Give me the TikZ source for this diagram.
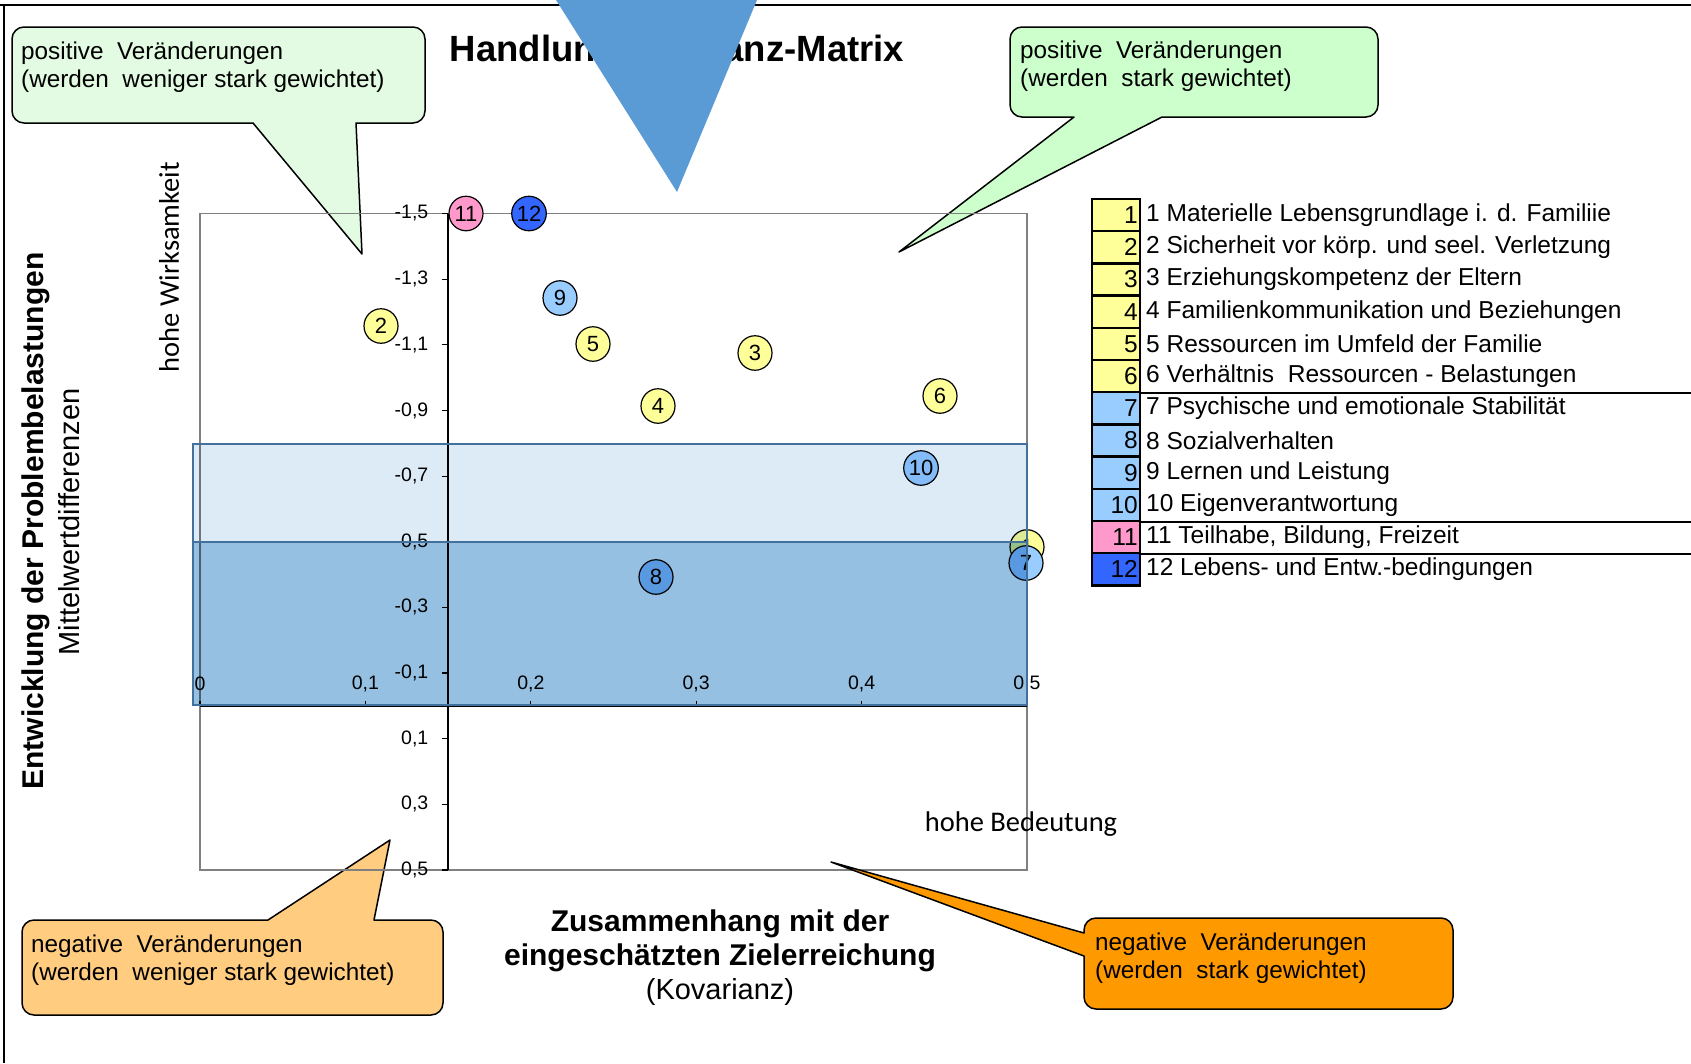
\documentclass[tikz,border=0pt]{standalone}
\usepackage{fontspec}
\setmainfont{Liberation Sans}
\newfontfamily\calib{Carlito}
\usetikzlibrary{shapes.geometric}
\definecolor{yel}{RGB}{255,255,153}
\definecolor{lblue}{RGB}{153,204,255}
\definecolor{pinkc}{RGB}{255,153,204}
\definecolor{dblue}{RGB}{51,102,255}
\definecolor{bandlight}{RGB}{221,235,247}
\definecolor{banddark}{RGB}{149,192,226}
\definecolor{bandline}{RGB}{65,113,156}
\definecolor{greenA}{RGB}{226,251,226}
\definecolor{greenB}{RGB}{204,255,204}
\definecolor{orangeA}{RGB}{255,204,128}
\definecolor{orangeB}{RGB}{255,153,0}
\definecolor{trifill}{RGB}{91,155,213}
\begin{document}
\begin{tikzpicture}[x=1pt,y=-1pt,
  callout/.style={draw=black, line width=1.5, line join=round},
  ctext/.style={anchor=west, align=left, inner sep=0, font=\fontsize{24.3}{28}\selectfont},
  ticklbl/.style={inner sep=0, font=\fontsize{19.5}{19.5}\selectfont},
  pt/.style={ellipse, draw=black, line width=1.2, minimum width=34, minimum height=34.5, inner sep=0, font=\fontsize{22}{22}\selectfont},
  bandedge/.style={draw=bandline, line width=2.5},
  cell/.style={draw=black, line width=2.5, minimum width=48, minimum height=32.25, inner sep=0},
  legtext/.style={anchor=west, inner sep=0, font=\fontsize{24.5}{28}\selectfont},
  axtitle/.style={inner sep=0, font=\fontsize{30}{34}\selectfont\bfseries},
  axsub/.style={inner sep=0, font=\fontsize{29}{34}\selectfont},
  hint/.style={inner sep=0, font=\fontsize{28.5}{32}\selectfont\calib}
]
\useasboundingbox (0,0) rectangle (1691,1063);
\fill[white] (0,0) rectangle (1691,1063);

% outer frame
\draw[line width=2.5] (0,5) -- (1691,5);
\draw[line width=1.5] (4,5) -- (4,1063);

% callout 3 (under plot)
\draw[callout, fill=orangeA] (390,840) -- (374,920) [rounded corners=12] -- (443,920) -- (443,1015) -- (22,1015) -- (22,920) [sharp corners] -- (268,920) -- cycle;
\node[ctext] (c3) at (31,960) {negative~ Veränderungen\\(werden~ weniger stark gewichtet)};

% callout 1
\draw[callout, fill=greenA] (362,254) -- (356,123) [rounded corners=12] -- (425,123) -- (425,27) -- (12,27) -- (12,123) [sharp corners] -- (253,123) -- cycle;
\node[ctext] (c1) at (21,67) {positive~ Veränderungen\\(werden~ weniger stark gewichtet)};

% callout 2
\draw[callout, fill=greenB] (899,252) -- (1162,117) [rounded corners=12] -- (1378,117) -- (1378,27) -- (1010,27) -- (1010,117) [sharp corners] -- (1074,117) -- cycle;
\node[ctext] (c2) at (1020,66) {positive~ Veränderungen\\(werden~ stark gewichtet)};

% plot frame and axes
\draw[gray, line width=1.5] (200,213.5) rectangle (1027,870);
\draw[line width=2] (448,213.5) -- (448,870);
\draw[line width=2] (200,705.5) -- (1027,705.5);

\foreach \v/\t [count=\i] in {-1.5/{-1,5},-1.3/{-1,3},-1.1/{-1,1},-0.9/{-0,9},-0.7/{-0,7},-0.5/{-0,5},-0.3/{-0,3},-0.1/{-0,1},0.1/{0,1},0.3/{0,3},0.5/{0,5}}{
  \pgfmathsetmacro\yy{213.5+(\v+1.5)*328.25}
  \draw[line width=1.2] (442,\yy) -- (448,\yy);
  \node[ticklbl, anchor=east] (yl\i) at (428.5,\yy) {\t};
}
\foreach \v/\t [count=\i] in {0/0,1/{0,1},2/{0,2},3/{0,3},4/{0,4},5/{0,5}}{
  \pgfmathsetmacro\xx{200+\v*165.4}
  \draw[line width=1.2] (\xx,700.5) -- (\xx,705.5);
  \node[ticklbl] (xl\i) at (\xx,683.5) {\t};
}

% data points
\node[pt, fill=yel] (p1) at (1027,547) {1};
\node[pt, fill=yel] (p2) at (381,326) {2};
\node[pt, fill=yel] (p3) at (755,353) {3};
\node[pt, fill=yel] (p4) at (658,406) {4};
\node[pt, fill=yel] (p5) at (593,344) {5};
\node[pt, fill=yel] (p6) at (940,396) {6};
\node[pt, fill=lblue] (p7) at (1026,563) {7};
\node[pt, fill=lblue] (p8) at (656,577) {8};
\node[pt, fill=lblue] (p9) at (560,298) {9};
\node[pt, fill=lblue] (p10) at (921,468) {10};
\node[pt, fill=pinkc] (p11) at (466,213.5) {11};
\node[pt, fill=dblue] (p12) at (529,213.5) {12};

% bands (multiplied over the plot)
\begin{scope}[blend mode=multiply]
\fill[bandlight] (193,444) rectangle (1027,541.8);
\fill[banddark] (193,541.8) rectangle (1027,705);
\end{scope}
\draw[bandedge] (193,444) rectangle (1027,705);
\draw[bandedge] (193,541.8) -- (1027,541.8);

% callout 4
\draw[callout, fill=orangeB] (831,862) -- (1084,956) [rounded corners=12] -- (1084,1009) -- (1453,1009) -- (1453,918) -- (1084,918) [sharp corners] -- (1084,933) -- cycle;
\node[ctext] (c4) at (1095,958) {negative~ Veränderungen\\(werden~ stark gewichtet)};

% axis titles
\node[axtitle] (xt1) at (720,924) {Zusammenhang mit der};
\node[axtitle] (xt2) at (720,958) {eingeschätzten Zielerreichung};
\node[axsub] (xt3) at (720,992) {(Kovarianz)};
\node[axtitle, rotate=90] (yt1) at (36,521) {Entwicklung der Problembelastungen};
\node[axsub, rotate=90] (yt2) at (69,522) {Mittelwertdifferenzen};
\node[hint, rotate=90] (hw) at (169,267) {hohe Wirksamkeit};
\node[hint] (hb) at (1021,824) {hohe Bedeutung};

% title
\node[inner sep=0, font=\fontsize{36.5}{40}\selectfont\bfseries] (title) at (677,52) {Handlungsrelevanz-Matrix};

% legend
\foreach \c/\t [count=\i] in {yel/{1 Materielle Lebensgrundlage i. d. Familiie},yel/{2 Sicherheit vor körp. und seel. Verletzung},yel/{3 Erziehungskompetenz der Eltern},yel/{4 Familienkommunikation und Beziehungen},yel/{5 Ressourcen im Umfeld der Familie},yel/{6 Verhältnis~ Ressourcen - Belastungen},lblue/{7 Psychische und emotionale Stabilität},lblue/{8 Sozialverhalten},lblue/{9 Lernen und Leistung},lblue/{10 Eigenverantwortung},pinkc/{11 Teilhabe, Bildung, Freizeit},dblue/{12 Lebens- und Entw.-bedingungen}}{
  \pgfmathsetmacro\yc{199+(\i-0.5)*32.2}
  \node[cell, fill=\c] (lc\i) at (1116,\yc) {};
  \node[anchor=east, inner sep=0, font=\fontsize{24.5}{28}\selectfont] (ln\i) at (1138,\yc) {\i};
  \node[legtext] (lt\i) at (1146,\yc) {\t};
}
\draw[line width=2] (lc6.south east) -- ++(560,0);
\draw[line width=2] (lc10.south east) -- ++(560,0);
\draw[line width=2] (lc11.south east) -- ++(560,0);

% triangle
\fill[trifill] (556,0) -- (757,0) -- (677,192) -- cycle;
\end{tikzpicture}
\end{document}
